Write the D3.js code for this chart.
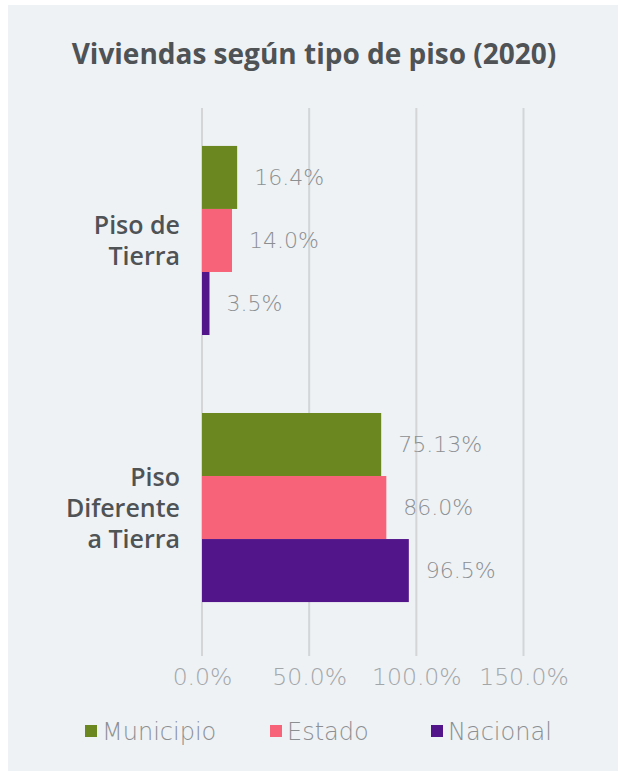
<!DOCTYPE html>
<html>
<head>
<meta charset="utf-8">
<script src="https://cdn.jsdelivr.net/npm/d3@7"></script>
<style>
  body { margin: 0; background: #ffffff; }
</style>
</head>
<body>
<script>
const width = 618
const height = 771

// data
const categories = ['Piso de Tierra', 'Piso Diferente a Tierra']
const categoryLines = [['Piso de', 'Tierra'], ['Piso', 'Diferente', 'a Tierra']]
const seriesNames = ['Municipio', 'Estado', 'Nacional']
const seriesColors = ['#6b8820', '#f7647a', '#53168a']
const municipioValues = [16.4, 83.6]
const estadoValues = [14.0, 86.0]
const nacionalValues = [3.5, 96.5]
const municipioLabels = ['16.4%', '75.13%']
const estadoLabels = ['14.0%', '86.0%']
const nacionalLabels = ['3.5%', '96.5%']
const xTicks = [0, 50, 100, 150]

const values = [municipioValues, estadoValues, nacionalValues]
const labels = [municipioLabels, estadoLabels, nacionalLabels]

const svg = d3.select('body')
        .append('svg')
        .attr('width', width)
        .attr('height', height)

// panel
svg.append('rect')
        .attr('x', 8)
        .attr('y', 5)
        .attr('width', width - 8)
        .attr('height', height - 5)
        .attr('fill', '#eef2f5')

svg.append('text')
        .text('Viviendas según tipo de piso (2020)')
        .attr('x', 314)
        .attr('y', 64)
        .attr('text-anchor', 'middle')
        .attr('font-family', 'Open Sans')
        .attr('font-weight', 700)
        .attr('font-size', '28px')
        .attr('fill', '#4f5356')

// scales
const xScale = d3.scaleLinear()
        .domain([0, 150])
        .range([202, 523.5])

const yScale = d3.scaleBand()
        .domain(categories)
        .range([100, 648])
        .paddingInner(0.292)
        .paddingOuter(0.172)

const ySub = d3.scaleBand()
        .domain(seriesNames)
        .range([0, yScale.bandwidth()])

// gridlines
svg.append('g')
        .selectAll('line')
        .data(xTicks)
        .join('line')
        .attr('x1', d => xScale(d))
        .attr('x2', d => xScale(d))
        .attr('y1', 108)
        .attr('y2', 656)
        .attr('stroke', '#d3d5d7')
        .attr('stroke-width', 2)

// x axis labels
const xAxis = d3.axisBottom()
        .scale(xScale)
        .tickValues(xTicks)
        .tickSize(0)
        .tickPadding(0)
        .tickFormat(d => d3.format('.1f')(d) + '%')

const xg = svg.append('g')
        .attr('transform', 'translate(0, 668)')
        .call(xAxis)
xg.select('.domain').remove()
xg.selectAll('text')
        .attr('font-family', 'DejaVu Sans')
        .attr('font-weight', 200)
        .attr('font-size', '23.5px')
        .attr('fill', '#a3a6a9')
        .attr('dy', '0.71em')

// bars
seriesNames.forEach((s, si) => {
    const g = svg.append('g')
    g.selectAll('rect')
        .data(categories)
        .join('rect')
        .attr('x', xScale(0))
        .attr('y', c => yScale(c) + ySub(s))
        .attr('width', (c, i) => xScale(values[si][i]) - xScale(0))
        .attr('height', ySub.bandwidth())
        .attr('fill', seriesColors[si])

    g.selectAll('text')
        .data(categories)
        .join('text')
        .text((c, i) => labels[si][i])
        .attr('x', (c, i) => xScale(values[si][i]) + 17)
        .attr('y', c => yScale(c) + ySub(s) + ySub.bandwidth() / 2)
        .attr('dy', '0.36em')
        .attr('font-family', 'DejaVu Sans')
        .attr('font-weight', 200)
        .attr('font-size', '22px')
        .attr('fill', '#8c8f92')
})

// category labels
categories.forEach((c, ci) => {
    const lines = categoryLines[ci]
    const mid = yScale(c) + yScale.bandwidth() / 2
    svg.append('text')
        .attr('text-anchor', 'end')
        .attr('font-family', 'Open Sans')
        .attr('font-weight', 600)
        .attr('font-size', '25px')
        .attr('fill', '#4f5356')
        .selectAll('tspan')
        .data(lines)
        .join('tspan')
        .attr('x', 180)
        .attr('y', (d, i) => mid + (i - (lines.length - 1) / 2) * 31)
        .attr('dy', '0.36em')
        .text(d => d)
})

// legend
const legendX = [85, 270, 431]
const legend = svg.append('g')
        .selectAll('g')
        .data(seriesNames)
        .join('g')
        .attr('transform', (d, i) => 'translate(' + legendX[i] + ', 731)')

legend.append('rect')
        .attr('x', 0)
        .attr('y', -6)
        .attr('width', 12)
        .attr('height', 12)
        .attr('fill', (d, i) => seriesColors[i])

legend.append('text')
        .text(d => d)
        .attr('x', 17)
        .attr('y', 0)
        .attr('dy', '0.36em')
        .attr('font-family', 'DejaVu Sans')
        .attr('font-weight', 200)
        .attr('font-size', '24px')
        .attr('fill', '#8c8f92')
</script>
</body>
</html>
